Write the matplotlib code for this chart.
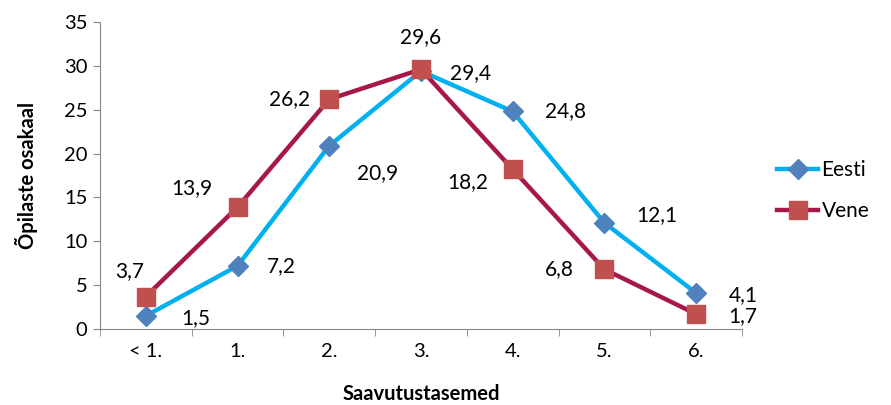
import matplotlib.pyplot as plt
import numpy as np

# data
categories = ['< 1.', '1.', '2.', '3.', '4.', '5.', '6.']
eesti = [1.5, 7.2, 20.9, 29.4, 24.8, 12.1, 4.1]
vene = [3.7, 13.9, 26.2, 29.6, 18.2, 6.8, 1.7]
labels_eesti = ['1,5', '7,2', '20,9', '29,4', '24,8', '12,1', '4,1']
labels_vene = ['3,7', '13,9', '26,2', '29,6', '18,2', '6,8', '1,7']

# label offsets in pixels (dx, dy)
off_eesti = [(50, -2), (44, 0), (48, -27), (50, -2), (53, 0), (52, 8), (47, -2)]
off_vene = [(-16, 25), (-46, 19), (-40, 0), (0, 32), (-45, -13), (-45, 0), (47, -2)]

plt.rcParams['font.family'] = ['Lato', 'DejaVu Sans']
plt.rcParams['font.size'] = 14.5

fig = plt.figure(figsize=(8.91, 4.05), dpi=100)
ax = fig.add_axes([100 / 891, 1 - 329 / 405, 642 / 891, 307 / 405])

x = np.arange(len(categories))
ax.plot(x, eesti, color='#00B0F0', lw=3.2, marker='D', markersize=10,
        markerfacecolor='#4F81BD', markeredgecolor='#4F81BD', label='Eesti', zorder=3)
ax.plot(x, vene, color='#A8174A', lw=3.2, marker='s', markersize=13,
        markerfacecolor='#C0504D', markeredgecolor='#C0504D', label='Vene', zorder=4)

for xi, v, t, o in zip(x, eesti, labels_eesti, off_eesti):
    ax.annotate(t, (xi, v), xytext=o, textcoords='offset pixels',
                ha='center', va='center', fontsize=15)
for xi, v, t, o in zip(x, vene, labels_vene, off_vene):
    ax.annotate(t, (xi, v), xytext=o, textcoords='offset pixels',
                ha='center', va='center', fontsize=15)

ax.set_xlim(-0.5, len(categories) - 0.5)
ax.set_ylim(0, 35)
ax.set_yticks(range(0, 36, 5))
ax.set_xticks(x)
ax.set_xticklabels(categories)
ax.set_xticks(np.arange(-0.5, len(categories), 1), minor=True)
ax.tick_params(axis='x', which='major', length=0, pad=10)
ax.tick_params(axis='x', which='minor', length=5, color='#868686')
ax.tick_params(axis='y', length=5, color='#868686', pad=4)

for s in ['top', 'right']:
    ax.spines[s].set_visible(False)
for s in ['left', 'bottom']:
    ax.spines[s].set_color('#868686')

ax.set_xlabel('Saavutustasemed', fontweight='bold', fontsize=14.5, labelpad=17)
ax.set_ylabel('Õpilaste osakaal', fontweight='bold', fontsize=14.5, labelpad=19)

ax.legend(loc='center left', bbox_to_anchor=(1.025, 0.45), frameon=False,
          fontsize=15, handlelength=2.0, handletextpad=0.15, labelspacing=1.0)

fig.savefig('out.png', dpi=100)
